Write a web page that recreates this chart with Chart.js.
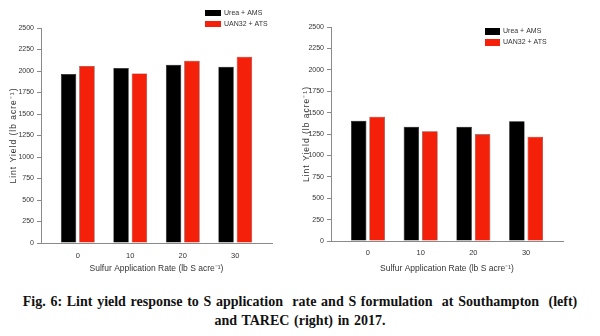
<!DOCTYPE html>
<html>
<head>
<meta charset="utf-8">
<script src="https://cdn.jsdelivr.net/npm/chart.js@4.4.1/dist/chart.umd.min.js"></script>
<style>
  html, body { margin: 0; padding: 0; background: #fff; }
  body { width: 600px; height: 336px; position: relative; overflow: hidden; }
  .panel { position: absolute; top: 0; width: 300px; height: 285px; }
  #panelLeft { left: 0; }
  #panelRight { left: 300px; }
  .caption {
    position: absolute; left: 0; top: 292px; width: 600px;
    text-align: center; white-space: pre;
    font-family: "Liberation Serif", "Times New Roman", serif;
    font-weight: bold; font-size: 14px; line-height: 19px; word-spacing: 1.2px; color: #111;
  }
</style>
</head>
<body>
<div class="panel" id="panelLeft"><canvas id="chartSouthampton"></canvas></div>
<div class="panel" id="panelRight"><canvas id="chartTarec"></canvas></div>
<div class="caption">Fig. 6: Lint yield response to S application  rate and S formulation  at Southampton  (left)
and TAREC (right) in 2017.</div>

<script>
// ====================== DONNEES ======================
const rates = [0, 10, 20, 30];
const seriesLabels = ["Urea + AMS", "UAN32 + ATS"];
const southamptonUrea = [1965, 2035, 2073, 2050];
const southamptonUan = [2058, 1972, 2120, 2166];
const tarecUrea = [1405, 1335, 1335, 1398];
const tarecUan = [1452, 1282, 1246, 1218];
const yTicks = [0, 250, 500, 750, 1000, 1250, 1500, 1750, 2000, 2250, 2500];
const yTitle = "Lint Yield (lb acre\u207B\u00B9)";

const COLOR_BLACK = "#000000";
const COLOR_RED = "#f5200a";
const AXIS_COLOR = "#8a8a8a";
const TEXT_COLOR = "#333333";
const FONT = '"Liberation Sans", Arial, sans-serif';

Chart.defaults.font.family = FONT;
Chart.defaults.color = TEXT_COLOR;

// legende + titre Y dessines a la main (titre espace comme dans SigmaPlot)
const legendePlugin = {
  id: "legendeManuelle",
  afterDraw(chart, args, opts) {
    const ctx = chart.ctx;
    ctx.save();
    ctx.font = "7px " + FONT;
    ctx.textBaseline = "middle";
    chart.data.datasets.forEach((ds, i) => {
      const y = opts.y + i * opts.step;
      ctx.fillStyle = ds.backgroundColor;
      ctx.fillRect(opts.x, y, opts.w, opts.h);
      ctx.fillStyle = TEXT_COLOR;
      ctx.fillText(ds.label, opts.x + opts.w + 3, y + opts.h / 2);
    });
    ctx.restore();

    const area = chart.chartArea;
    ctx.save();
    ctx.font = "8.5px " + FONT;
    ctx.letterSpacing = "1px";
    ctx.fillStyle = TEXT_COLOR;
    ctx.textAlign = "center";
    ctx.textBaseline = "middle";
    ctx.translate(opts.titleX, (area.top + area.bottom) / 2);
    ctx.rotate(-Math.PI / 2);
    ctx.fillText(yTitle, 0, 0);
    ctx.restore();
  },
};

function renderChartYield(canvasId, urea, uan, geo) {
  const canvas = document.getElementById(canvasId);
  if (!canvas || !window.Chart) return;

  canvas._chart = new Chart(canvas, {
    type: "bar",
    data: {
      datasets: [
        {
          label: seriesLabels[0],
          data: rates.map((r, i) => ({ x: r, y: urea[i] })),
          backgroundColor: COLOR_BLACK,
          borderColor: "#000",
          borderWidth: 0.6,
        },
        {
          label: seriesLabels[1],
          data: rates.map((r, i) => ({ x: r, y: uan[i] })),
          backgroundColor: COLOR_RED,
          borderColor: "#5a1008",
          borderWidth: 0.6,
        },
      ],
    },
    options: {
      responsive: true,
      maintainAspectRatio: false,
      animation: false,
      categoryPercentage: 0.7,
      barPercentage: 0.84,
      layout: { padding: { top: geo.top, right: geo.right, left: 0, bottom: 0 } },
      scales: {
        x: {
          type: "linear",
          offset: false,
          min: -7,
          max: 37,
          afterBuildTicks: (s) => {
            s.ticks = rates.map((v) => ({ value: v }));
          },
          afterFit: (s) => {
            s.height = geo.xHeight;
          },
          grid: { display: false, drawTicks: false, tickLength: 0, offset: false },
          border: { display: true, color: AXIS_COLOR, width: 1 },
          ticks: { padding: geo.xTickPad, font: { size: 7.5 }, color: TEXT_COLOR },
          title: {
            display: true,
            text: "Sulfur Application Rate (lb S acre\u207B\u00B9)",
            font: { size: 8.5 },
            color: TEXT_COLOR,
            padding: { top: 0, bottom: 11 },
          },
        },
        y: {
          min: 0,
          max: 2500,
          afterBuildTicks: (s) => {
            s.ticks = yTicks.map((v) => ({ value: v }));
          },
          afterFit: (s) => {
            s.width = geo.yWidth;
          },
          grid: {
            display: true,
            drawOnChartArea: false,
            drawTicks: true,
            tickLength: 4,
            color: AXIS_COLOR,
          },
          border: { display: true, color: AXIS_COLOR, width: 1 },
          ticks: {
            padding: 3,
            font: { size: 7 },
            color: TEXT_COLOR,
            callback: (v) => String(v),
          },
          title: { display: false },
        },
      },
      plugins: {
        legend: { display: false },
        tooltip: { enabled: false },
        legendeManuelle: geo.legend,
      },
    },
    plugins: [legendePlugin],
  });
}

renderChartYield("chartSouthampton", southamptonUrea, southamptonUan, {
  top: 28, right: 28, xHeight: 42, yWidth: 41, xTickPad: 8,
  legend: { x: 205, y: 10, step: 11, w: 16, h: 6, titleX: 14 },
});

renderChartYield("chartTarec", tarecUrea, tarecUan, {
  top: 27, right: 37, xHeight: 44, yWidth: 31, xTickPad: 7,
  legend: { x: 185, y: 28, step: 11, w: 15, h: 7, titleX: 6.5 },
});
</script>
</body>
</html>
